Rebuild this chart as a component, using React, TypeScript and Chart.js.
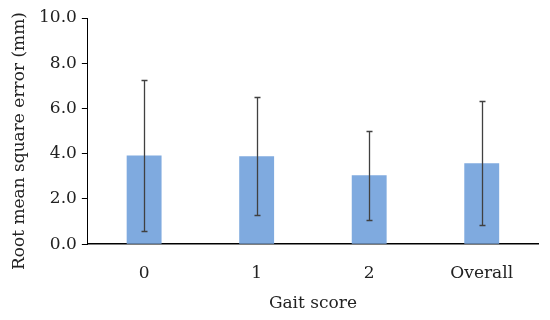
import React, { useEffect, useRef } from "react";
import { Chart, registerables } from "chart.js";

Chart.register(...registerables);

const categories = ["0", "1", "2", "Overall"];
const rmseValues = [3.92, 3.89, 3.05, 3.58];
const rmseSd = [3.33, 2.62, 1.97, 2.74];
const yTicks = [0, 2, 4, 6, 8, 10];
const yTitle = "Root mean square error (mm)";
const xTitle = "Gait score";

const FONT = "'DejaVu Serif', serif";

const errorBarPlugin = {
  id: "errorBars",
  afterDatasetsDraw(chart: any) {
    const { ctx } = chart;
    const meta = chart.getDatasetMeta(0);
    const yScale = chart.scales.y;
    ctx.save();
    ctx.strokeStyle = "#404040";
    ctx.lineWidth = 1.3;
    meta.data.forEach((bar: any, i: number) => {
      const x = Math.round(bar.x) + 0.5;
      const yTop = yScale.getPixelForValue(rmseValues[i] + rmseSd[i]);
      const yBot = yScale.getPixelForValue(rmseValues[i] - rmseSd[i]);
      const cap = 3;
      ctx.beginPath();
      ctx.moveTo(x, yTop);
      ctx.lineTo(x, yBot);
      ctx.moveTo(x - cap, Math.round(yTop) + 0.5);
      ctx.lineTo(x + cap, Math.round(yTop) + 0.5);
      ctx.moveTo(x - cap, Math.round(yBot) + 0.5);
      ctx.lineTo(x + cap, Math.round(yBot) + 0.5);
      ctx.stroke();
    });
    ctx.restore();
  },
};

const yTitlePlugin = {
  id: "yTitle",
  afterDraw(chart: any) {
    const { ctx, chartArea } = chart;
    ctx.save();
    ctx.fillStyle = "#222";
    ctx.font = `17px ${FONT}`;
    ctx.textAlign = "center";
    ctx.textBaseline = "middle";
    ctx.translate(20, (chartArea.top + chartArea.bottom) / 2 + 10);
    ctx.rotate(-Math.PI / 2);
    ctx.fillText(yTitle, 0, 0);
    ctx.restore();
  },
};

export default function App() {
  const ref = useRef<HTMLCanvasElement>(null);
  useEffect(() => {
    if (!ref.current) return;
    const chart = new Chart(ref.current, {
      type: "bar",
      data: {
        labels: categories,
        datasets: [
          {
            data: rmseValues,
            backgroundColor: "#7FAADF",
            categoryPercentage: 0.62,
            barPercentage: 0.5,
          },
        ],
      },
      options: {
        animation: false,
        responsive: false,
        layout: { padding: { top: 18, right: 12, left: 34, bottom: 0 } },
        plugins: { legend: { display: false }, tooltip: { enabled: false } },
        scales: {
          x: {
            grid: { display: false },
            border: { display: true, color: "#000", width: 1.5 },
            ticks: { color: "#222", font: { family: FONT, size: 17 }, padding: 11 },
            title: {
              display: true,
              text: xTitle,
              color: "#222",
              font: { family: FONT, size: 17 },
              padding: { top: -1, bottom: 6 },
            },
          },
          y: {
            min: 0,
            max: 10,
            afterBuildTicks: (axis: any) => {
              axis.ticks = yTicks.map((v) => ({ value: v }));
            },
            grid: { drawOnChartArea: false, drawTicks: true, tickLength: 6, color: "#000" },
            border: { display: true, color: "#000", width: 1 },
            ticks: {
              color: "#222",
              font: { family: FONT, size: 17 },
              padding: 5,
              callback: (v: any) => Number(v).toFixed(1),
            },
            title: { display: false },
          },
        },
      },
      plugins: [errorBarPlugin, yTitlePlugin],
    });
    return () => chart.destroy();
  }, []);
  return (
    <div style={{ position: "absolute", left: 0, top: 0, width: 550, height: 320, background: "#fff" }}>
      <canvas ref={ref} width={550} height={320} />
    </div>
  );
}
